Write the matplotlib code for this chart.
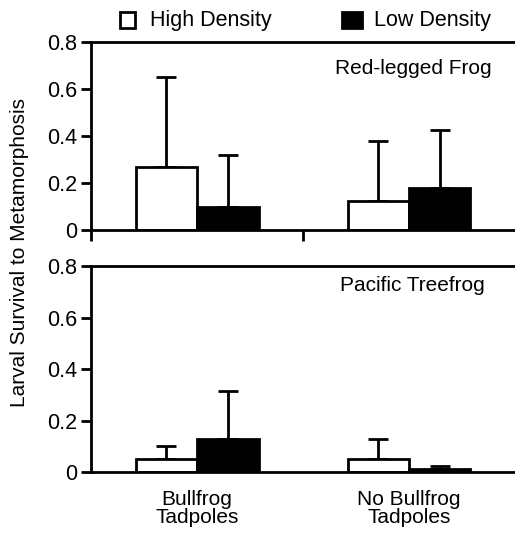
import numpy as np
import matplotlib
matplotlib.use('Agg')
import matplotlib.pyplot as plt
from matplotlib.patches import Rectangle

plt.rcParams['font.family'] = ['Liberation Sans', 'DejaVu Sans']

groups = ['Bullfrog\nTadpoles', 'No Bullfrog\nTadpoles']
series = ['High Density', 'Low Density']

# mean survival and upper error-bar top, per panel
frog_mean = {'Red-legged Frog': [[0.27, 0.125], [0.10, 0.18]],
             'Pacific Treefrog': [[0.05, 0.05], [0.13, 0.01]]}
frog_top = {'Red-legged Frog': [[0.65, 0.38], [0.32, 0.425]],
            'Pacific Treefrog': [[0.10, 0.13], [0.315, 0.025]]}

fig = plt.figure(figsize=(5.15, 5.33), dpi=100)
ax_top = fig.add_axes([0.177, 0.5685, 0.823, 0.3525])
ax_bot = fig.add_axes([0.177, 0.1144, 0.823, 0.3865])

x = np.array([0.5, 1.5])
w = 0.29
fc = ['white', 'black']
lab_pos = {'Red-legged Frog': (0.946, 0.91), 'Pacific Treefrog': (0.929, 0.95)}

for ax, name in [(ax_top, 'Red-legged Frog'), (ax_bot, 'Pacific Treefrog')]:
    for i in range(2):
        xs = x + (i - 0.5) * w
        mean = np.array(frog_mean[name][i])
        err = np.array(frog_top[name][i]) - mean
        ax.errorbar(xs, mean, yerr=[np.zeros(2), err], fmt='none',
                    ecolor='black', elinewidth=2, capsize=7, capthick=2, zorder=1)
        ax.bar(xs, mean, width=w, color=fc[i], edgecolor='black', lw=2, zorder=2)
    ax.set_xlim(0, 2)
    ax.set_ylim(0, 0.8)
    ax.set_yticks([0, 0.2, 0.4, 0.6, 0.8])
    ax.set_yticklabels(['0', '0.2', '0.4', '0.6', '0.8'])
    ax.spines['right'].set_visible(False)
    for s in ['left', 'top', 'bottom']:
        ax.spines[s].set_linewidth(2)
    ax.tick_params(axis='y', direction='out', length=7, width=2, labelsize=15.5, pad=3)
    ax.text(*lab_pos[name], name, transform=ax.transAxes, ha='right', va='top',
            fontsize=15)

ax_top.set_xticks([0, 1])
ax_top.set_xticklabels([])
ax_top.tick_params(axis='x', direction='out', length=8, width=2)

ax_bot.set_xticks(x)
ax_bot.set_xticklabels(groups, fontsize=15, linespacing=0.95)
ax_bot.tick_params(axis='x', length=0, pad=13)

fig.text(0.037, 0.527, 'Larval Survival to Metamorphosis', rotation=90,
         ha='center', va='center', fontsize=15)

# legend across the top
for xl, wd, col, lab, xt in [(0.233, 0.029, 'white', series[0], 0.291),
                             (0.664, 0.039, 'black', series[1], 0.726)]:
    fig.patches.append(Rectangle((xl, 0.948), wd, 0.030, transform=fig.transFigure,
                                 facecolor=col, edgecolor='black', lw=2))
    fig.text(xt, 0.962, lab, ha='left', va='center', fontsize=15.5)

fig.savefig('out.png', dpi=100)
